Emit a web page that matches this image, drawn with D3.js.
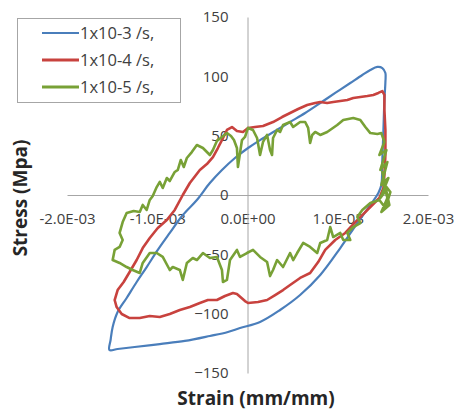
<!DOCTYPE html>
<html>
<head>
<meta charset="utf-8">
<script src="https://cdn.jsdelivr.net/npm/d3@7"></script>
<style>
  body { margin: 0; background: #fff; }
  svg { display: block; font-family: "Open Sans", sans-serif; }
</style>
</head>
<body>
<svg id="chart" width="456" height="412"></svg>
<script>
// Series labels and colours
const seriesNames = ["1x10-3 /s,", "1x10-4 /s,", "1x10-5 /s,"];
const seriesColors = ["#4a7ebb", "#c8423e", "#78a136"];

// Axis ticks
const xTicks = [-2e-3, -1e-3, 0, 1e-3, 2e-3];
const xTickLabels = ["-2.0E-03", "-1.0E-03", "0.0E+00", "1.0E-03", "2.0E-03"];
const yTicks = [-150, -100, -50, 0, 50, 100, 150];

// Hysteresis loop at 1x10-3 /s  [strain, stress MPa]
const loopRate3 = [
  [-1.530e-3,-130.6],[-1.517e-3,-122.2],[-1.494e-3,-111.2],[-1.439e-3,-98.6],[-1.339e-3,-86.8],
  [-1.228e-3,-73.3],[-1.117e-3,-60.7],[-0.994e-3,-46.3],[-0.861e-3,-32.0],[-0.717e-3,-16.9],
  [-0.561e-3,-4.2],[-0.417e-3,10.1],[-0.283e-3,21.1],[-0.139e-3,31.2],[0.006e-3,39.6],
  [0.139e-3,46.3],[0.306e-3,53.9],[0.472e-3,61.5],[0.639e-3,69.1],[0.806e-3,77.5],
  [0.972e-3,86.0],[1.139e-3,94.4],[1.272e-3,101.1],[1.361e-3,105.3],[1.439e-3,107.9],
  [1.494e-3,107.0],[1.528e-3,102.8],[1.528e-3,95.2],[1.517e-3,80.1],[1.506e-3,54.8],
  [1.494e-3,29.5],[1.483e-3,8.4],[1.450e-3,1.7],[1.361e-3,-8.4],[1.217e-3,-23.6],
  [1.028e-3,-44.7],[0.806e-3,-67.4],[0.583e-3,-84.3],[0.361e-3,-96.9],[0.139e-3,-107.0],
  [-0.083e-3,-112.1],[-0.217e-3,-115.4],[-0.417e-3,-118.8],[-0.694e-3,-123.0],[-0.972e-3,-125.6],
  [-1.250e-3,-128.1],[-1.439e-3,-129.8]
];

// Hysteresis loop at 1x10-4 /s
const loopRate4 = [
  [-1.472e-3,-88.5],[-1.439e-3,-80.1],[-1.372e-3,-73.3],[-1.306e-3,-64.9],[-1.228e-3,-54.8],
  [-1.161e-3,-44.7],[-1.083e-3,-36.2],[-0.994e-3,-27.8],[-0.894e-3,-21.1],[-0.806e-3,-12.6],
  [-0.717e-3,0.0],[-0.639e-3,10.1],[-0.528e-3,21.1],[-0.450e-3,26.1],[-0.383e-3,32.0],
  [-0.328e-3,39.6],[-0.272e-3,48.0],[-0.228e-3,54.8],[-0.172e-3,57.3],[-0.117e-3,53.9],
  [-0.050e-3,53.1],[0.006e-3,56.5],[0.083e-3,57.3],[0.172e-3,58.1],[0.283e-3,61.5],
  [0.383e-3,65.7],[0.472e-3,69.1],[0.561e-3,72.5],[0.661e-3,75.8],[0.750e-3,77.5],
  [0.806e-3,78.4],[0.883e-3,77.5],[0.950e-3,78.4],[1.028e-3,79.2],[1.106e-3,80.1],
  [1.172e-3,81.7],[1.250e-3,82.6],[1.328e-3,83.4],[1.394e-3,84.3],[1.450e-3,86.0],
  [1.494e-3,87.6],[1.517e-3,84.3],[1.517e-3,71.6],[1.528e-3,54.8],[1.528e-3,33.7],
  [1.517e-3,16.9],[1.506e-3,5.9],[1.461e-3,-2.5],[1.383e-3,-8.4],[1.272e-3,-16.9],
  [1.194e-3,-22.8],[1.083e-3,-32.0],[0.972e-3,-37.9],[0.861e-3,-46.3],[0.783e-3,-56.5],
  [0.694e-3,-65.7],[0.583e-3,-69.9],[0.472e-3,-75.8],[0.394e-3,-80.1],[0.306e-3,-84.3],
  [0.217e-3,-88.5],[0.117e-3,-90.2],[0.006e-3,-91.0],[-0.028e-3,-89.4],[-0.117e-3,-83.4],
  [-0.161e-3,-82.6],[-0.250e-3,-85.1],[-0.339e-3,-88.5],[-0.439e-3,-88.5],[-0.528e-3,-91.0],
  [-0.639e-3,-94.4],[-0.750e-3,-96.9],[-0.861e-3,-100.3],[-0.972e-3,-102.8],[-1.083e-3,-102.0],
  [-1.194e-3,-103.7],[-1.306e-3,-103.7],[-1.394e-3,-100.3],[-1.450e-3,-94.4]
];

// Hysteresis loop at 1x10-5 /s
const loopRate5 = [
  [-1.494e-3,-54.8],[-1.472e-3,-46.3],[-1.417e-3,-43.8],[-1.383e-3,-37.9],[-1.417e-3,-32.0],
  [-1.383e-3,-22.8],[-1.339e-3,-15.2],[-1.261e-3,-13.5],[-1.194e-3,-14.3],[-1.161e-3,-8.4],
  [-1.117e-3,-12.6],[-1.083e-3,-4.2],[-1.050e-3,-0.8],[-1.006e-3,6.7],[-0.972e-3,11.0],
  [-0.939e-3,5.9],[-0.894e-3,14.3],[-0.861e-3,11.8],[-0.806e-3,19.4],[-0.772e-3,21.1],
  [-0.739e-3,29.5],[-0.706e-3,23.6],[-0.672e-3,31.2],[-0.617e-3,36.2],[-0.561e-3,42.1],
  [-0.494e-3,39.6],[-0.417e-3,33.7],[-0.383e-3,37.9],[-0.339e-3,45.5],[-0.283e-3,48.9],
  [-0.228e-3,52.2],[-0.183e-3,49.7],[-0.150e-3,46.3],[-0.117e-3,39.6],[-0.106e-3,23.6],
  [-0.083e-3,35.4],[-0.061e-3,46.3],[-0.028e-3,48.9],[0.006e-3,56.5],[0.061e-3,54.8],
  [0.106e-3,48.0],[0.139e-3,33.7],[0.172e-3,44.7],[0.217e-3,50.6],[0.250e-3,37.9],
  [0.272e-3,33.7],[0.283e-3,48.0],[0.328e-3,54.8],[0.361e-3,53.1],[0.394e-3,59.0],
  [0.472e-3,61.5],[0.506e-3,57.3],[0.583e-3,61.5],[0.639e-3,61.5],[0.672e-3,56.5],
  [0.694e-3,43.8],[0.717e-3,50.6],[0.750e-3,53.1],[0.806e-3,50.6],[0.883e-3,53.1],
  [0.994e-3,59.0],[1.061e-3,63.2],[1.172e-3,64.9],[1.250e-3,63.2],[1.306e-3,57.3],
  [1.361e-3,52.2],[1.439e-3,51.4],[1.483e-3,52.2],
  [1.517e-3,44.7],[1.461e-3,33.7],[1.539e-3,37.9],[1.472e-3,21.1],[1.550e-3,27.8],
  [1.483e-3,8.4],[1.561e-3,14.3],[1.472e-3,-2.5],[1.539e-3,4.2],[1.494e-3,19.4],
  [1.572e-3,-8.4],[1.483e-3,-14.3],[1.550e-3,-2.5],[1.506e-3,10.1],[1.583e-3,2.5],
  [1.528e-3,-11.0],[1.461e-3,-4.2],
  [1.361e-3,-6.7],[1.272e-3,-12.6],[1.217e-3,-18.5],[1.250e-3,-23.6],[1.172e-3,-27.0],
  [1.106e-3,-32.0],[1.139e-3,-37.9],[1.061e-3,-37.9],[1.028e-3,-32.0],[0.950e-3,-35.4],
  [0.917e-3,-27.0],[0.883e-3,-37.9],[0.806e-3,-40.4],[0.772e-3,-48.9],[0.694e-3,-43.8],
  [0.617e-3,-40.4],[0.550e-3,-48.9],[0.506e-3,-54.8],[0.472e-3,-48.9],[0.394e-3,-60.7],
  [0.328e-3,-54.8],[0.283e-3,-63.2],[0.250e-3,-68.3],[0.217e-3,-56.5],[0.139e-3,-52.2],
  [0.061e-3,-46.3],[-0.006e-3,-48.9],[-0.083e-3,-52.2],[-0.117e-3,-46.3],[-0.194e-3,-54.8],
  [-0.228e-3,-71.6],[-0.272e-3,-73.3],[-0.283e-3,-63.2],[-0.339e-3,-52.2],[-0.417e-3,-53.1],
  [-0.494e-3,-48.9],[-0.561e-3,-54.8],[-0.606e-3,-53.1],[-0.672e-3,-57.3],[-0.717e-3,-71.6],
  [-0.750e-3,-63.2],[-0.828e-3,-60.7],[-0.861e-3,-63.2],[-0.939e-3,-52.2],[-1.006e-3,-48.9],
  [-1.083e-3,-48.9],[-1.161e-3,-57.3],[-1.194e-3,-65.7],[-1.272e-3,-63.2],[-1.339e-3,-60.7],
  [-1.417e-3,-57.3]
];

const loops = [loopRate3, loopRate4, loopRate5];

const svg = d3.select("#chart");

const x = d3.scaleLinear().domain([-2e-3, 2e-3]).range([67, 428]);
const y = d3.scaleLinear().domain([-150, 150]).range([373, 17]);

const axisColor = "#a6a6a6";
const labelColor = "#404040";

// Horizontal axis through stress = 0
const gx = svg.append("g")
  .attr("transform", `translate(0,${y(0)})`)
  .call(d3.axisBottom(x)
    .tickValues(xTicks)
    .tickFormat((d, i) => xTickLabels[i])
    .tickSize(0)
    .tickPadding(18));
gx.select(".domain").attr("stroke", axisColor);
gx.selectAll("text").attr("fill", labelColor).style("font-size", "15px")
  .style("font-family", "'Open Sans', sans-serif");

// Vertical axis through strain = 0
const gy = svg.append("g")
  .attr("transform", `translate(${x(0)},0)`)
  .call(d3.axisLeft(y)
    .tickValues(yTicks)
    .tickSize(0)
    .tickPadding(19));
gy.select(".domain").attr("stroke", axisColor);
gy.selectAll("text").attr("fill", labelColor).style("font-size", "15px")
  .style("font-family", "'Open Sans', sans-serif");

// Loops
const smoothLine = d3.line().x(d => x(d[0])).y(d => y(d[1]))
  .curve(d3.curveCatmullRomClosed.alpha(0.5));
const rawLine = d3.line().x(d => x(d[0])).y(d => y(d[1]))
  .curve(d3.curveLinearClosed);

svg.append("g").attr("fill", "none").attr("stroke-linejoin", "round")
  .selectAll("path")
  .data(loops)
  .join("path")
  .attr("d", (d, i) => i === 0 ? smoothLine(d) : rawLine(d))
  .attr("stroke", (d, i) => seriesColors[i])
  .attr("stroke-width", (d, i) => i === 0 ? 2.2 : 2.6);

// Legend
const legend = svg.append("g");
legend.append("rect")
  .attr("x", 17.5).attr("y", 18.5).attr("width", 163).attr("height", 84)
  .attr("fill", "#fff").attr("stroke", axisColor);
const rows = legend.selectAll("g.row")
  .data(seriesNames)
  .join("g")
  .attr("class", "row")
  .attr("transform", (d, i) => `translate(0,${33 + i * 27})`);
rows.append("line")
  .attr("x1", 42).attr("x2", 79)
  .attr("stroke", (d, i) => seriesColors[i])
  .attr("stroke-width", (d, i) => i === 0 ? 2.2 : 2.8);
rows.append("text")
  .attr("x", 80).attr("dy", "0.35em")
  .attr("fill", labelColor)
  .style("font-size", "16.5px")
  .text(d => d);

// Axis titles
svg.append("text")
  .attr("x", 256).attr("y", 405)
  .attr("text-anchor", "middle")
  .attr("fill", "#262626")
  .style("font-size", "19px").style("font-weight", "bold")
  .text("Strain (mm/mm)");
svg.append("text")
  .attr("transform", "translate(27,198) rotate(-90)")
  .attr("text-anchor", "middle")
  .attr("fill", "#262626")
  .style("font-size", "19px").style("font-weight", "bold")
  .text("Stress (Mpa)");
</script>
</body>
</html>
